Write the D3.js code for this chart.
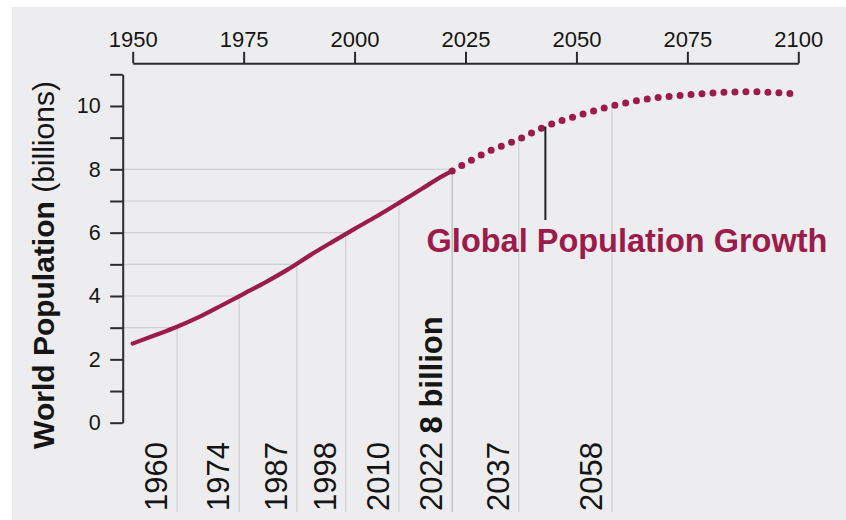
<!DOCTYPE html>
<html>
<head>
<meta charset="utf-8">
<script src="https://cdn.jsdelivr.net/npm/d3@7"></script>
<style>
  html, body { margin: 0; padding: 0; background: #ffffff; }
  svg { display: block; }
  text { font-family: "Liberation Sans", Arial, Helvetica, sans-serif; }
</style>
</head>
<body>
<svg id="chart" width="846" height="520"></svg>
<script>
// ---------- data ----------
const histYears = [1950, 1955, 1960, 1965, 1970, 1975, 1980, 1985, 1990, 1995, 2000, 2005, 2010, 2015, 2020, 2022];
const histValues = [2.50, 2.76, 3.03, 3.34, 3.70, 4.07, 4.44, 4.84, 5.29, 5.71, 6.12, 6.52, 6.94, 7.37, 7.80, 7.95];

const projYears = [2022, 2030, 2037, 2043, 2050, 2058, 2065, 2075, 2085, 2090, 2095, 2100];
const projValues = [7.95, 8.55, 8.95, 9.35, 9.68, 10.00, 10.20, 10.35, 10.44, 10.45, 10.42, 10.37];

const milestoneYears = [1960, 1974, 1987, 1998, 2010, 2022, 2037, 2058];
const milestoneValues = [3, 4, 5, 6, 7, 8, 9, 10];
const milestoneLabels = ["1960", "1974", "1987", "1998", "2010", "2022", "2037", "2058"];
const milestoneNotes = ["", "", "", "", "", "8 billion", "", ""];

const topTickYears = [1950, 1975, 2000, 2025, 2050, 2075, 2100];
const yTickValues = [0, 1, 2, 3, 4, 5, 6, 7, 8, 9, 10, 11];

const titleBold = "World Population";
const titleNormal = " (billions)";
const seriesLabel = "Global Population Growth";
const annotationYear = 2043;

// ---------- styles ----------
const RED = "#9b1b4b";
const GRID = "#cfcfd3";
const AXIS = "#2b2b2b";
const TEXT = "#151515";

const svg = d3.select("#chart");

// background panel
svg.append("rect").attr("x", 12).attr("y", 7).attr("width", 834).attr("height", 513).attr("fill", "#ededef");

const x = d3.scaleLinear().domain([1950, 2100]).range([132.7, 798.3]);
const y = d3.scaleLinear().domain([0, 11]).range([422.7, 74.3]);
const axisX = 122.7;
const topAxisY = 63.3;
const bottomY = 512;

// ---------- milestone grid lines ----------
const grid = svg.append("g");
milestoneYears.forEach((yr, i) => {
  const v = milestoneValues[i];
  if (v <= 8) {
    grid.append("line")
      .attr("x1", axisX).attr("x2", x(yr))
      .attr("y1", y(v)).attr("y2", y(v))
      .attr("stroke", GRID).attr("stroke-width", 1.2);
  }
  grid.append("line")
    .attr("x1", x(yr)).attr("x2", x(yr))
    .attr("y1", y(v)).attr("y2", bottomY)
    .attr("stroke", yr === 2022 ? "#b9b9bd" : GRID).attr("stroke-width", 1.2);
});

// ---------- axes ----------
const topAxis = d3.axisTop(x).tickValues(topTickYears).tickFormat(d3.format("d"))
  .tickSize(11.5).tickSizeOuter(0).tickPadding(4.5);
const gTop = svg.append("g").attr("transform", `translate(0,${topAxisY})`).call(topAxis);
gTop.select(".domain").attr("stroke", AXIS).attr("stroke-width", 2);
gTop.selectAll(".tick line").attr("stroke", AXIS).attr("stroke-width", 2);
gTop.selectAll(".tick text").attr("font-size", 22).attr("fill", TEXT)
  .style("font-family", '"Liberation Sans", Arial, sans-serif');

const leftAxis = d3.axisLeft(y).tickValues(yTickValues)
  .tickFormat(d => (d % 2 === 0 ? d : ""))
  .tickSize(12.5).tickSizeOuter(0).tickPadding(9.5);
const gLeft = svg.append("g").attr("transform", `translate(${axisX},0)`).call(leftAxis);
gLeft.select(".domain").attr("stroke", AXIS).attr("stroke-width", 2);
gLeft.selectAll(".tick line").attr("stroke", AXIS).attr("stroke-width", 2);
gLeft.selectAll(".tick text").attr("font-size", 21.5).attr("fill", TEXT)
  .style("font-family", '"Liberation Sans", Arial, sans-serif');

// ---------- lines ----------
const line = d3.line().x(d => x(d[0])).y(d => y(d[1])).curve(d3.curveMonotoneX);
const hist = histYears.map((yr, i) => [yr, histValues[i]]);
const proj = projYears.map((yr, i) => [yr, projValues[i]]);

svg.append("path").datum(hist).attr("d", line)
  .attr("fill", "none").attr("stroke", RED).attr("stroke-width", 4.2).attr("stroke-linecap", "round");
svg.append("path").datum(proj).attr("d", line)
  .attr("fill", "none").attr("stroke", RED).attr("stroke-width", 7)
  .attr("stroke-linecap", "round").attr("stroke-dasharray", "0 11");

// ---------- annotation ----------
const annIdx = projYears.indexOf(annotationYear);
svg.append("line")
  .attr("x1", x(annotationYear)).attr("x2", x(annotationYear))
  .attr("y1", y(projValues[annIdx])).attr("y2", y(6.4))
  .attr("stroke", "#222").attr("stroke-width", 2);
svg.append("text")
  .attr("x", 627).attr("y", 252)
  .attr("text-anchor", "middle")
  .attr("font-size", 32.5).attr("font-weight", "bold").attr("fill", RED)
  .text(seriesLabel);

// ---------- milestone labels ----------
milestoneYears.forEach((yr, i) => {
  const t = svg.append("text")
    .attr("transform", `translate(${x(yr) - 10},511) rotate(-90)`)
    .attr("text-anchor", "start")
    .attr("font-size", 31).attr("fill", TEXT);
  t.append("tspan").text(milestoneLabels[i]);
  if (milestoneNotes[i]) {
    t.append("tspan").attr("font-weight", "bold").text(" " + milestoneNotes[i]);
  }
});

// ---------- y title ----------
const yt = svg.append("text")
  .attr("transform", "translate(54,265) rotate(-90)")
  .attr("text-anchor", "middle")
  .attr("font-size", 30).attr("fill", TEXT);
yt.append("tspan").attr("font-weight", "bold").text(titleBold);
yt.append("tspan").text(titleNormal);
</script>
</body>
</html>
